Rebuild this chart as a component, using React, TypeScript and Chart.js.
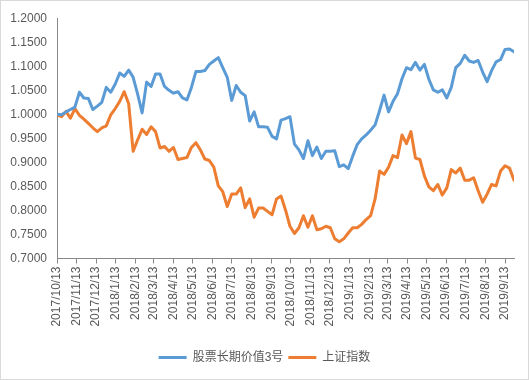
import React, { useEffect, useRef } from "react";
import { Chart, registerables } from "chart.js";

Chart.register(...registerables);

const SERIES_NAMES = ["股票长期价值3号", "上证指数"];
const START_DATE = "2017/10/13";
const STEP_DAYS = 7;

const FUND_VALUES = [
  1.000, 0.999, 1.005, 1.010, 1.015, 1.046, 1.034, 1.033, 1.010, 1.017,
  1.025, 1.056, 1.046, 1.063, 1.086, 1.079, 1.092, 1.077, 1.042, 1.003,
  1.067, 1.058, 1.084, 1.084, 1.058, 1.050, 1.044, 1.047, 1.034, 1.030,
  1.056, 1.089, 1.089, 1.091, 1.104, 1.111, 1.118, 1.097, 1.077, 1.029,
  1.060, 1.046, 1.039, 0.986, 1.005, 0.974, 0.974, 0.973, 0.954, 0.949,
  0.988, 0.991, 0.995, 0.938, 0.926, 0.908, 0.945, 0.914, 0.932, 0.908,
  0.923, 0.923, 0.924, 0.891, 0.895, 0.887, 0.913, 0.937, 0.949, 0.957,
  0.967, 0.978, 1.008, 1.040, 1.005, 1.027, 1.043, 1.074, 1.097, 1.093,
  1.108, 1.092, 1.104, 1.073, 1.051, 1.046, 1.051, 1.034, 1.056, 1.097,
  1.106, 1.123, 1.111, 1.108, 1.112, 1.088, 1.068, 1.091, 1.109, 1.114,
  1.135, 1.136, 1.130,
];

const INDEX_VALUES = [
  0.999, 0.995, 1.006, 0.992, 1.012, 0.998, 0.990, 0.981, 0.972, 0.964,
  0.972, 0.976, 0.999, 1.012, 1.027, 1.047, 1.022, 0.923, 0.947, 0.969,
  0.958, 0.974, 0.964, 0.930, 0.933, 0.923, 0.931, 0.906, 0.908, 0.910,
  0.931, 0.941, 0.926, 0.907, 0.904, 0.890, 0.851, 0.839, 0.808, 0.834,
  0.834, 0.847, 0.806, 0.824, 0.786, 0.805, 0.805, 0.798, 0.791, 0.824,
  0.830, 0.801, 0.767, 0.752, 0.764, 0.789, 0.765, 0.789, 0.760, 0.762,
  0.767, 0.764, 0.741, 0.735, 0.741, 0.753, 0.764, 0.764, 0.771, 0.781,
  0.789, 0.824, 0.882, 0.875, 0.890, 0.914, 0.910, 0.957, 0.939, 0.964,
  0.909, 0.906, 0.872, 0.849, 0.841, 0.854, 0.832, 0.847, 0.885, 0.878,
  0.888, 0.863, 0.863, 0.868, 0.841, 0.817, 0.834, 0.854, 0.851, 0.882,
  0.893, 0.888, 0.863,
];

const X_TICK_LABELS = [
  "2017/10/13", "2017/11/13", "2017/12/13", "2018/1/13", "2018/2/13", "2018/3/13",
  "2018/4/13", "2018/5/13", "2018/6/13", "2018/7/13", "2018/8/13", "2018/9/13",
  "2018/10/13", "2018/11/13", "2018/12/13", "2019/1/13", "2019/2/13", "2019/3/13",
  "2019/4/13", "2019/5/13", "2019/6/13", "2019/7/13", "2019/8/13", "2019/9/13",
];

const Y_MIN = 0.7;
const Y_MAX = 1.2;
const Y_STEP = 0.05;

const COLORS = ["#5B9BD5", "#ED7D31"];

function dayOf(label: string): number {
  const [y, m, d] = label.split("/").map(Number);
  const [sy, sm, sd] = START_DATE.split("/").map(Number);
  return Math.round((Date.UTC(y, m - 1, d) - Date.UTC(sy, sm - 1, sd)) / 86400000);
}

const TICK_DAYS = X_TICK_LABELS.map(dayOf);
const LABEL_BY_DAY: Record<number, string> = {};
X_TICK_LABELS.forEach((l, i) => (LABEL_BY_DAY[TICK_DAYS[i]] = l));

const legendShift = {
  id: "legendShift",
  afterLayout(chart: any) {
    const lg = chart.legend;
    if (lg) {
      lg.left += 7;
      lg.right += 7;
    }
  },
};

export default function App() {
  const ref = useRef<HTMLCanvasElement | null>(null);

  useEffect(() => {
    if (!ref.current) return;
    const font = "'Liberation Sans', 'Noto Sans CJK SC', sans-serif";
    Chart.defaults.font.family = font;
    const toPts = (arr: number[]) => arr.map((v, i) => ({ x: i * STEP_DAYS, y: v }));
    const lastDay = (FUND_VALUES.length - 1) * STEP_DAYS;
    const chart = new Chart(ref.current, {
      type: "line",
      data: {
        datasets: [
          {
            label: SERIES_NAMES[0],
            data: toPts(FUND_VALUES),
            borderColor: COLORS[0],
            backgroundColor: COLORS[0],
            borderWidth: 3,
            pointRadius: 0,
            tension: 0,
            borderJoinStyle: "round",
            borderCapStyle: "round",
          },
          {
            label: SERIES_NAMES[1],
            data: toPts(INDEX_VALUES),
            borderColor: COLORS[1],
            backgroundColor: COLORS[1],
            borderWidth: 3,
            pointRadius: 0,
            tension: 0,
            borderJoinStyle: "round",
            borderCapStyle: "round",
          },
        ],
      },
      plugins: [legendShift],
      options: {
        responsive: false,
        animation: false,
        devicePixelRatio: 1,
        layout: { padding: { left: 0, right: 14, top: 14, bottom: 5.5 } },
        plugins: {
          legend: {
            position: "bottom",
            labels: {
              usePointStyle: true,
              pointStyle: "line",
              pointStyleWidth: 28,
              padding: 5,
              color: "#595959",
              font: { size: 12, family: font },
            },
          },
          tooltip: { enabled: false },
        },
        scales: {
          x: {
            type: "linear",
            min: 0,
            max: lastDay,
            afterFit: (s: any) => {
              s.height = 88;
            },
            afterBuildTicks: (s: any) => {
              s.ticks = TICK_DAYS.map((v) => ({ value: v }));
            },
            grid: {
              display: true,
              drawOnChartArea: false,
              drawTicks: true,
              tickLength: 5,
              color: "#898989",
            },
            border: { display: true, color: "#898989", width: 1 },
            ticks: {
              autoSkip: false,
              maxRotation: 90,
              minRotation: 90,
              padding: 3,
              color: "#595959",
              font: { size: 12, family: font },
              callback: (v: any) => LABEL_BY_DAY[v as number] ?? "",
            },
          },
          y: {
            min: Y_MIN,
            max: Y_MAX,
            afterFit: (s: any) => {
              s.width = 56;
            },
            grid: { display: false, drawTicks: false },
            border: { display: true, color: "#898989", width: 1 },
            ticks: {
              stepSize: Y_STEP,
              padding: 10,
              color: "#595959",
              font: { size: 12, family: font },
              callback: (v: any) => Number(v).toFixed(4),
            },
          },
        },
      },
    });
    return () => chart.destroy();
  }, []);

  return (
    <div
      style={{
        position: "fixed",
        left: 0,
        top: 0,
        width: 529,
        height: 380,
        boxSizing: "border-box",
        border: "1px solid #d9d9d9",
        background: "#fff",
      }}
    >
      <canvas ref={ref} width={527} height={378} style={{ display: "block" }} />
    </div>
  );
}
